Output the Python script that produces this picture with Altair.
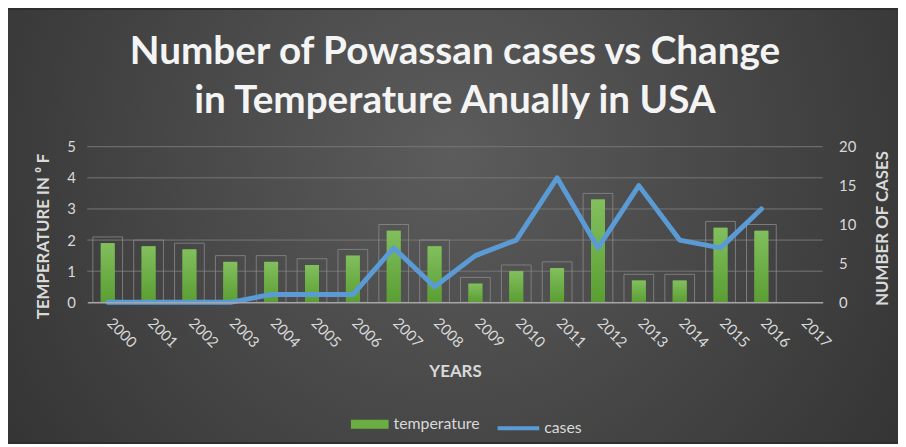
import altair as alt
import pandas as pd

years = [str(y) for y in range(2000, 2018)]
temperature = [1.9, 1.8, 1.7, 1.3, 1.3, 1.2, 1.5, 2.3, 1.8, 0.6, 1.0, 1.1, 3.3, 0.7, 0.7, 2.4, 2.3, None]
outline = [2.1, 2.0, 1.9, 1.5, 1.5, 1.4, 1.7, 2.5, 2.0, 0.8, 1.2, 1.3, 3.5, 0.9, 0.9, 2.6, 2.5, None]
cases = [0, 0, 0, 0, 1, 1, 1, 7, 2, 6, 8, 16, 7, 15, 8, 7, 12, None]
grid_values = [1, 2, 3, 4, 5]

df = pd.DataFrame({
    "year": years,
    "temperature": temperature,
    "outline": outline,
    "cases": cases,
    "tser": ["temperature"] * len(years),
    "cser": ["cases"] * len(years),
})
grid_df = pd.DataFrame({"g": grid_values})

W, H = 742, 157
PAD = {"left": 80, "top": 138, "right": 76, "bottom": 141}
FONT = "Lato"
LABEL = "#d9d9d9"

green_grad = {
    "gradient": "linear", "x1": 0, "y1": 0, "x2": 0, "y2": 1,
    "stops": [{"offset": 0, "color": "#82bf5e"}, {"offset": 1, "color": "#5a9e32"}],
}
bg_grad = {
    "gradient": "radial", "x1": 0.5, "y1": 0.42, "r1": 0, "x2": 0.5, "y2": 0.42, "r2": 0.75,
    "stops": [{"offset": 0, "color": "#5c5c5c"}, {"offset": 1, "color": "#2a2a2a"}],
}

x_enc = alt.X(
    "year:N",
    scale=alt.Scale(domain=years),
    axis=alt.Axis(
        title="YEARS", titleFont=FONT, titleFontSize=17, titleFontWeight="bold", titleColor=LABEL,
        titleY=75, titleBaseline="alphabetic",
        labelAngle=45, labelFont=FONT, labelFontSize=15, labelColor=LABEL,
        labelPadding=13, labelOffset=7,
        ticks=False, domainColor="#a6a6a6", domainWidth=1.5, grid=False, zindex=1,
    ),
)

temp_scale = alt.Scale(domain=[0, 5], nice=False)

bg = alt.Chart(pd.DataFrame({"a": [0]})).mark_rect(fill=bg_grad).encode(
    x=alt.value(-PAD["left"]), x2=alt.value(W + PAD["right"]),
    y=alt.value(-PAD["top"]), y2=alt.value(H + PAD["bottom"]),
)

grid = alt.Chart(grid_df).mark_rule(color="#767676", strokeWidth=1).encode(
    y=alt.Y("g:Q", scale=temp_scale, axis=None),
)

boxes = alt.Chart(df).mark_bar(size=30, fill="transparent", stroke="#8a8a8a", strokeWidth=1, strokeOpacity=0.8).encode(
    x=x_enc,
    y=alt.Y("outline:Q", scale=temp_scale, axis=None),
)

bars_legend = alt.Chart(df).mark_bar(size=14).encode(
    x=x_enc,
    y=alt.Y(
        "temperature:Q", scale=temp_scale,
        axis=alt.Axis(
            title="TEMPERATURE IN \u2070 F", titleFont=FONT, titleFontSize=17, titleFontWeight="bold",
            titleColor=LABEL, titlePadding=14, titleY=90,
            labelFont=FONT, labelFontSize=15, labelColor=LABEL, labelPadding=12,
            values=[0, 1, 2, 3, 4, 5], ticks=False, domain=False, grid=False, zindex=1,
        ),
    ),
    fill=alt.Fill(
        "tser:N", scale=alt.Scale(domain=["temperature"], range=["#6aae42"]),
        legend=alt.Legend(
            title=None, orient="none", legendX=266, legendY=261,
            symbolType="M-1,-0.24H1V0.24H-1Z", symbolSize=1444, symbolStrokeWidth=0,
            labelFont=FONT, labelFontSize=16, labelColor=LABEL, labelOffset=5,
        ),
    ),
)

bars_grad = alt.Chart(df).mark_bar(size=14, fill=green_grad).encode(
    x=x_enc,
    y=alt.Y("temperature:Q", scale=temp_scale, axis=None),
)

line = alt.Chart(df).mark_line(strokeWidth=5, strokeCap="round", strokeJoin="round").encode(
    x=x_enc,
    y=alt.Y(
        "cases:Q", scale=alt.Scale(domain=[0, 20], nice=False),
        axis=alt.Axis(
            orient="right", title="NUMBER OF CASES", titleFont=FONT, titleFontSize=17,
            titleFontWeight="bold", titleColor=LABEL, titleAngle=270, titlePadding=36, titleY=82,
            labelFont=FONT, labelFontSize=15, labelColor=LABEL, labelPadding=16,
            values=[0, 5, 10, 15, 20], ticks=False, domain=False, grid=False, zindex=1,
        ),
    ),
    stroke=alt.Stroke(
        "cser:N", scale=alt.Scale(domain=["cases"], range=["#5b9bd5"]),
        legend=alt.Legend(
            title=None, orient="none", legendX=412, legendY=261,
            symbolType="stroke", symbolSize=1764, symbolStrokeWidth=4,
            labelFont=FONT, labelFontSize=16, labelColor=LABEL, labelOffset=3,
        ),
    ),
)

chart = alt.layer(bg, grid, boxes, bars_legend, bars_grad, line).resolve_scale(
    y="independent", fill="independent", stroke="independent"
).properties(
    width=W, height=H,
    autosize=alt.AutoSizeParams(type="none"),
    padding=PAD,
    background="#2e2e2e",
    title=alt.TitleParams(
        text=["Number of Powassan cases vs Change", "in Temperature Anually in USA"],
        font=FONT, fontSize=39, fontWeight="bold", color="#f4f4f4",
        lineHeight=49, offset=-143, baseline="alphabetic", anchor="middle", frame="group", zindex=1,
    ),
).configure_view(stroke=None)

chart.save("out.html", embed_options={"renderer": "svg", "actions": False})
